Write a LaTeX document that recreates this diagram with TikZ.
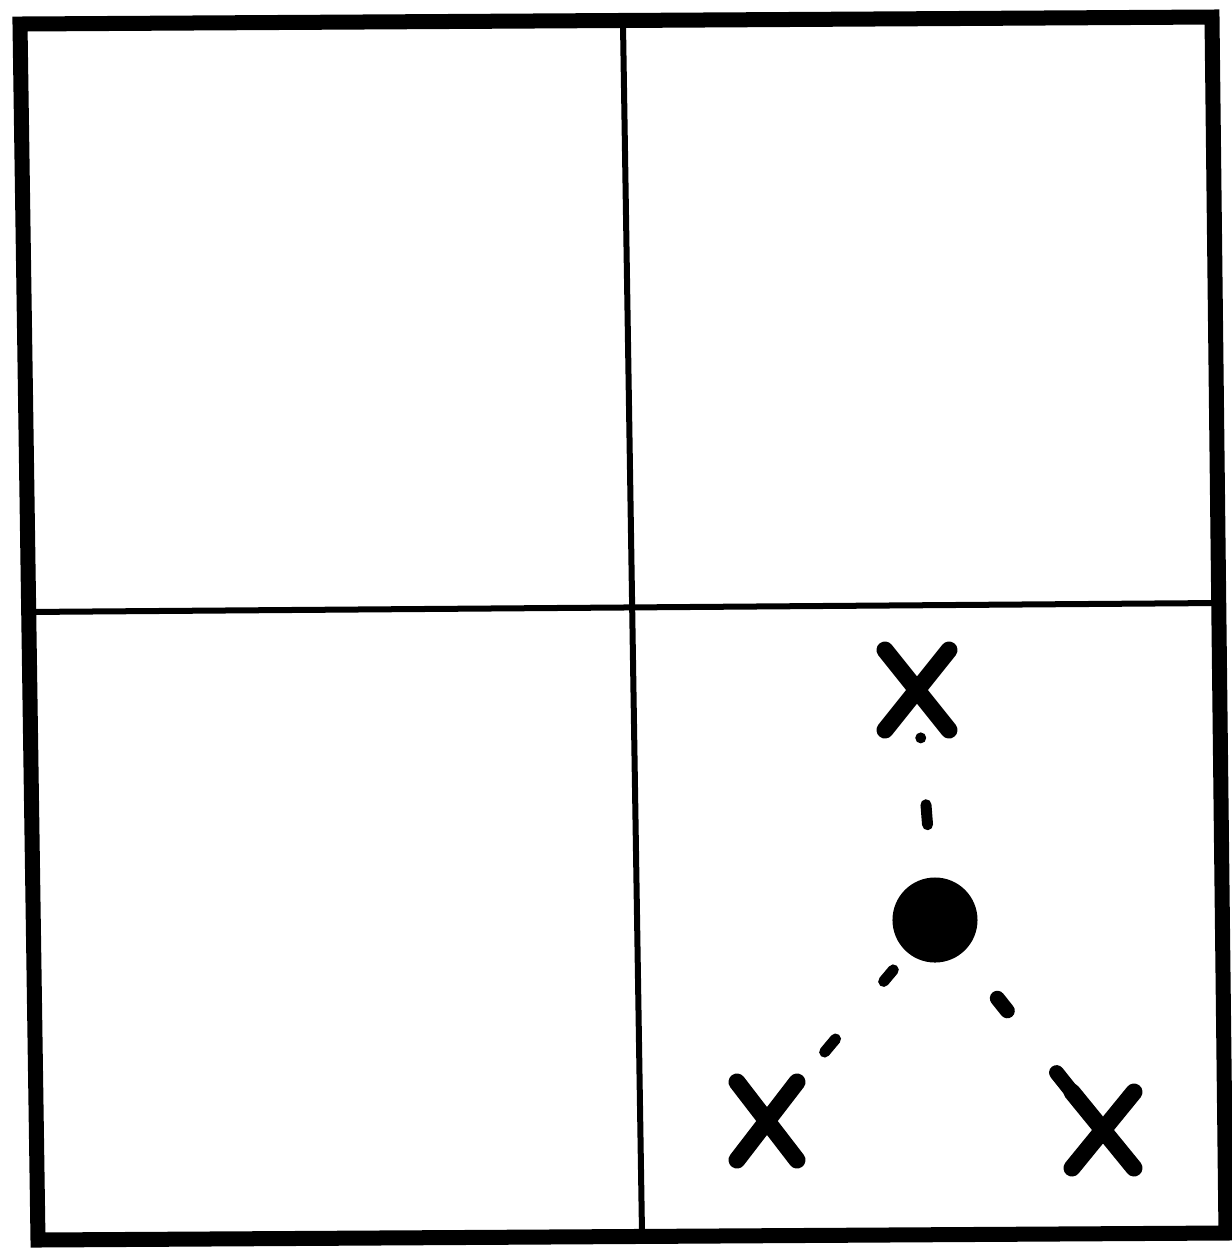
\documentclass[tikz,border=0pt]{standalone}
\usetikzlibrary{shapes.misc}
\begin{document}
\begin{tikzpicture}[x=0.01cm,y=-0.01cm,
  frame/.style={line width=0.15cm,line join=miter},
  divider/.style={line width=0.06cm},
  xmark/.style={cross out,draw,line width=0.17cm,line cap=round,inner sep=0pt,outer sep=0pt},
  bigdot/.style={circle,fill,inner sep=0pt,minimum size=0.85cm},
  dashlink/.style={line width=0.11cm,line cap=round}]
\useasboundingbox (0,0) rectangle (1232,1256);
\coordinate (tl) at (20,24);
\coordinate (tr) at (1212,17);
\coordinate (br) at (1226,1233);
\coordinate (bl) at (38,1240);
\coordinate (vt) at (623,24);
\coordinate (vb) at (642,1233);
\coordinate (hl) at (24,612);
\coordinate (hr) at (1219,603);
\draw[frame] (tl) -- (tr) -- (br) -- (bl) -- cycle;
\draw[divider] (vt) -- (vb);
\draw[divider] (hl) -- (hr);
\node[xmark,minimum width=0.64cm,minimum height=0.8cm] (x1) at (917,690) {};
\node[xmark,minimum width=0.6cm,minimum height=0.78cm] (x2) at (767,1121) {};
\node[xmark,minimum width=0.62cm,minimum height=0.76cm] (x3) at (1103,1130) {};
\node[bigdot] (dot) at (935,920) {};
\draw[dashlink,shorten <=0.48cm,shorten >=0.9cm,dash pattern=on 0cm off 0.67cm on 0.2cm off 3cm] (x1.center) -- (dot.center);
\draw[dashlink,shorten <=0.65cm,shorten >=0.6cm,dash pattern=on 0.15cm off 0.75cm on 0.17cm off 3cm] (dot.center) -- (x2.center);
\draw[dashlink,line width=0.15cm,shorten <=1.0cm,dash pattern=on 0.16cm off 0.79cm on 3cm] (dot.center) -- (x3.north west);
\end{tikzpicture}
\end{document}
